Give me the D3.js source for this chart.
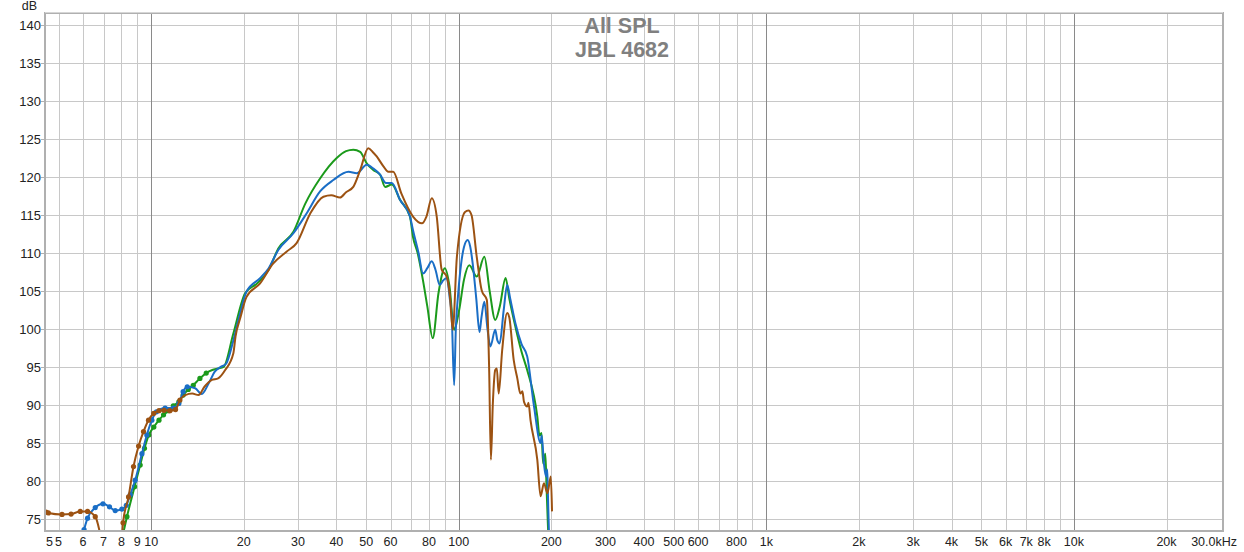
<!DOCTYPE html>
<html><head><meta charset="utf-8">
<script src="https://cdn.jsdelivr.net/npm/d3@7/dist/d3.min.js"></script>
<style>body{margin:0;background:#fff} svg{display:block}</style>
</head><body><svg id="c" width="1244" height="552"></svg>
<script>
// ---------- data ----------
const titleLines = ["All SPL", "JBL 4682"];
const yUnit = "dB";
const freqDomain = [4.55, 30300];
const dbDomain = [73.55, 141.45];
const yTicks = [75, 80, 85, 90, 95, 100, 105, 110, 115, 120, 125, 130, 135, 140];
const decadeLines = [10, 100, 1000, 10000];
const minorLines = [5,6,7,8,9,20,30,40,50,60,70,80,90,200,300,400,500,600,700,800,900,
  2000,3000,4000,5000,6000,7000,8000,9000,20000];
const xTickValues = [5,6,7,8,9,10,20,30,40,50,60,80,100,200,300,400,500,600,800,1000,
  2000,3000,4000,5000,6000,7000,8000,10000,20000];
const xTickLabels = ["5","6","7","8","9","10","20","30","40","50","60","80","100","200","300","400","500","600","800","1k",
  "2k","3k","4k","5k","6k","7k","8k","10k","20k"];
const xEdgeLabels = ["5", "30.0kHz"];

const blueSeries = [
 [5.9,72.0],[6.05,73.6],[6.21,75.1],[6.58,76.5],[6.97,77.0],[7.32,76.6],[7.64,76.1],[8.03,76.3],
 [8.3,76.8],[8.55,78.2],[8.87,80.1],[9.33,83.6],[9.68,86.05],[10.05,88.0],[10.4,89.1],[11.1,89.6],
 [11.8,89.6],[12.3,90.2],[12.7,91.75],[13.1,92.4],[13.9,92.2],[14.6,91.45],[15.4,92.9],[16.1,94.4],
 [16.8,95.0],[17.5,95.4],[18.5,98.5],[19.3,101.5],[20.4,104.9],[22.6,106.7],[24.1,108.0],[25.9,110.4],
 [29.0,112.6],[32.0,115.2],[35.4,118.1],[39.1,119.6],[43.8,120.7],[46.6,120.5],[50.2,121.6],[52.8,121.1],
 [55.5,120.3],[58.0,119.2],[60.6,119.2],[64.4,117.0],[69.4,114.8],[71,113.0],[74,110.0],[76.5,107.3],
 [79,108.0],[81.7,108.9],[84,107.8],[86.7,105.8],[89,106.4],[91.4,106.7],[93.5,104.0],[94.9,101.6],
 [96.6,92.6],[97.8,99.9],[99.5,104.5],[101.8,108.6],[104,110.8],[106.9,111.7],[109,110.8],[111,108.6],
 [114,104.0],[116.8,99.6],[118.5,101.5],[121.1,103.6],[124,100.0],[126.7,97.7],[131.4,99.9],[133.5,98.5],
 [135.8,98.1],[140,102.5],[143.7,105.8],[147,104.0],[152.8,100.75],[160,98.0],[166.9,96.4],[175.7,89.8],
 [184.5,85.0],[186,86.0],[189.2,82.3],[192,80.6],[194,81.5],[195,78.0],[196.5,73.0],[197,72.0]
];
const greenSeries = [
 [8.1,73.0],[8.34,75.3],[8.83,79.25],[9.21,82.1],[9.51,84.3],[9.82,86.05],[10.2,87.1],[10.6,88.0],
 [10.97,88.7],[11.4,89.25],[11.8,89.9],[12.3,90.4],[12.7,91.3],[13.2,92.05],[13.7,92.6],[14.4,93.5],
 [15.1,94.2],[15.8,94.6],[16.5,94.8],[17.2,95.0],[18.5,99.4],[20.2,104.7],[22.1,106.0],[24.1,107.8],
 [25.9,110.6],[29.0,112.8],[31.7,116.5],[35.4,119.8],[40.1,122.5],[43,123.4],[45.4,123.6],[47.8,123.3],
 [50.2,121.8],[52.8,120.9],[55.5,120.3],[57.6,118.7],[60.6,119.0],[64.4,117.0],[69.4,114.8],[71,112.1],
 [73.5,110.0],[76.5,106.4],[79,103.0],[82.3,98.8],[85.9,104.7],[90.1,108.0],[93.3,105.6],[96.6,99.9],
 [100.3,102.5],[104,106.5],[108.2,108.4],[114.4,106.9],[121.1,109.5],[126,105.0],[131.4,101.2],[136,103.0],
 [142,106.7],[146,104.0],[152.8,100.3],[160,97.0],[166.9,94.6],[180,88.5],[183,86.0],[185.8,86.3],
 [188,82.3],[191.2,83.6],[193,79.0],[195,74.0],[196,72.0]
];
const brownSeries = [
 [4.55,75.9],[4.63,75.8],[5.13,75.6],[5.49,75.65],[5.88,76.0],[6.21,76.0],[6.58,75.3],[7.0,71.0],
 [7.5,66.0],[7.9,68.0],[8.1,74.5],[8.44,77.9],[8.76,81.9],[9.1,84.6],[9.44,86.5],[9.8,88.0],
 [10.2,88.9],[10.6,89.25],[11.0,89.3],[11.5,89.25],[12.0,89.4],[12.4,90.65],[12.9,91.3],[13.6,91.5],
 [14.25,91.3],[14.9,92.4],[15.75,93.3],[16.5,93.5],[17.4,94.6],[18.5,96.8],[18.8,99.0],[19.5,101.5],
 [20.4,104.2],[22.6,106.0],[24.9,108.6],[27.6,110.2],[29.7,111.3],[32.9,115.2],[36.3,117.4],[38.5,117.6],
 [41.1,117.3],[43,118.0],[45.4,118.7],[47.8,120.9],[50.8,123.8],[52.5,123.3],[54.1,122.7],[56.9,121.4],
 [59,120.7],[61.2,120.7],[65.1,117.8],[71,114.8],[75.9,113.9],[78.5,114.8],[81.7,117.2],[84.8,114.8],
 [88,107.8],[91.4,106.9],[93.5,104.5],[95.6,99.9],[98.6,109.5],[104.8,115.4],[107.5,115.6],[110,115.0],
 [114.4,109.5],[118.7,105.1],[123.4,103.8],[125.5,95.0],[127.2,82.8],[129,90.0],[131.4,94.6],[133,94.8],
 [134.8,91.5],[138.4,97.2],[143.7,102.1],[146,101.5],[150.9,95.9],[155,93.5],[158.6,91.5],[161,91.8],
 [163,90.4],[166.9,89.8],[168.5,90.3],[171.1,88.0],[180,82.8],[184.5,78.0],[189.2,79.7],[194.2,78.4],
 [199.2,80.6],[201,76.0]
];
const seriesList = [
  {name:"green", color:"#1b9a1b", data:greenSeries, dotMax:15.2},
  {name:"blue",  color:"#1a6ec6", data:blueSeries,  dotMax:13.2},
  {name:"brown", color:"#9c5212", data:brownSeries, dotMax:12.5}
];

// ---------- chart ----------
const W = 1244, H = 552;
const svg = d3.select("#c");
const L = 46, R = 1222, T = 14, B = 530;
const x = d3.scaleLog().domain(freqDomain).range([L, R]);
const y = d3.scaleLinear().domain(dbDomain).range([B, T]);

svg.append("rect").attr("width",W).attr("height",H).attr("fill","#fff");

const defs = svg.append("defs");
defs.append("clipPath").attr("id","plotclip").append("rect")
  .attr("x",L).attr("y",T).attr("width",R-L).attr("height",B-T);

// grid
const grid = svg.append("g");
grid.selectAll(".hg").data(yTicks).join("line")
  .attr("x1",L).attr("x2",R).attr("y1",d=>Math.round(y(d))+0.5).attr("y2",d=>Math.round(y(d))+0.5)
  .attr("stroke","#c8c8c8").attr("stroke-width",1);
grid.selectAll(".vg").data(minorLines).join("line")
  .attr("x1",d=>Math.round(x(d))+0.5).attr("x2",d=>Math.round(x(d))+0.5).attr("y1",T).attr("y2",B)
  .attr("stroke","#c8c8c8").attr("stroke-width",1);
grid.selectAll(".dg").data(decadeLines).join("line")
  .attr("x1",d=>Math.round(x(d))+0.5).attr("x2",d=>Math.round(x(d))+0.5).attr("y1",T).attr("y2",B)
  .attr("stroke","#8a8a8a").attr("stroke-width",1);

// title
const title = svg.append("g").attr("font-family","Liberation Sans, Arial, sans-serif")
  .attr("font-weight","bold").attr("font-size",21.5).attr("fill","#808080").attr("text-anchor","middle");
title.selectAll("text").data(titleLines).join("text")
  .attr("x",W/2).attr("y",(d,i)=>33+i*23.5).text(d=>d);

// series
const line = d3.line().x(d=>x(d[0])).y(d=>y(d[1])).curve(d3.curveMonotoneX);
const plot = svg.append("g").attr("clip-path","url(#plotclip)");
seriesList.forEach(s=>{
  plot.append("path").datum(s.data).attr("d",line)
    .attr("fill","none").attr("stroke",s.color).attr("stroke-width",2).attr("stroke-linejoin","round");
  plot.selectAll(".dot-"+s.name).data(s.data.filter(d=>d[0]<=s.dotMax)).join("circle")
    .attr("cx",d=>x(d[0])).attr("cy",d=>y(d[1])).attr("r",2.6).attr("fill",s.color);
});

// frame
svg.append("rect").attr("x",L-1).attr("y",T-1).attr("width",R-L+2).attr("height",B-T+2)
  .attr("fill","none").attr("stroke","#b0b0b0").attr("stroke-width",2);
svg.append("line").attr("x1",L-1).attr("x2",R+1).attr("y1",T-1.5).attr("y2",T-1.5).attr("stroke","#d6d6d6").attr("stroke-width",1);

// y axis ticks and labels
const ax = svg.append("g").attr("font-family","Liberation Sans, Arial, sans-serif").attr("font-size",13).attr("fill","#222");
ax.selectAll(".yt").data(yTicks).join("line")
  .attr("x1",L-5).attr("x2",L-2).attr("y1",d=>Math.round(y(d))+0.5).attr("y2",d=>Math.round(y(d))+0.5)
  .attr("stroke","#b0b0b0");
ax.selectAll(".yl").data(yTicks).join("text")
  .attr("x",41).attr("y",d=>y(d)+4.6).attr("text-anchor","end").text(d=>d);
ax.append("text").attr("x",37).attr("y",10).attr("text-anchor","end").attr("font-size",12.5).text(yUnit);

// x labels
ax.selectAll(".xl").data(xTickValues).join("text")
  .attr("x",d=>x(d)).attr("y",546).attr("text-anchor","middle").attr("font-size",12.5)
  .text((d,i)=>xTickLabels[i]);
ax.append("text").attr("x",x(freqDomain[0])).attr("y",546).attr("text-anchor","start").attr("font-size",12.5).text(xEdgeLabels[0]);
ax.append("text").attr("x",x(freqDomain[1])+15).attr("y",546).attr("text-anchor","end").attr("font-size",12.5).text(xEdgeLabels[1]);
</script></body></html>
